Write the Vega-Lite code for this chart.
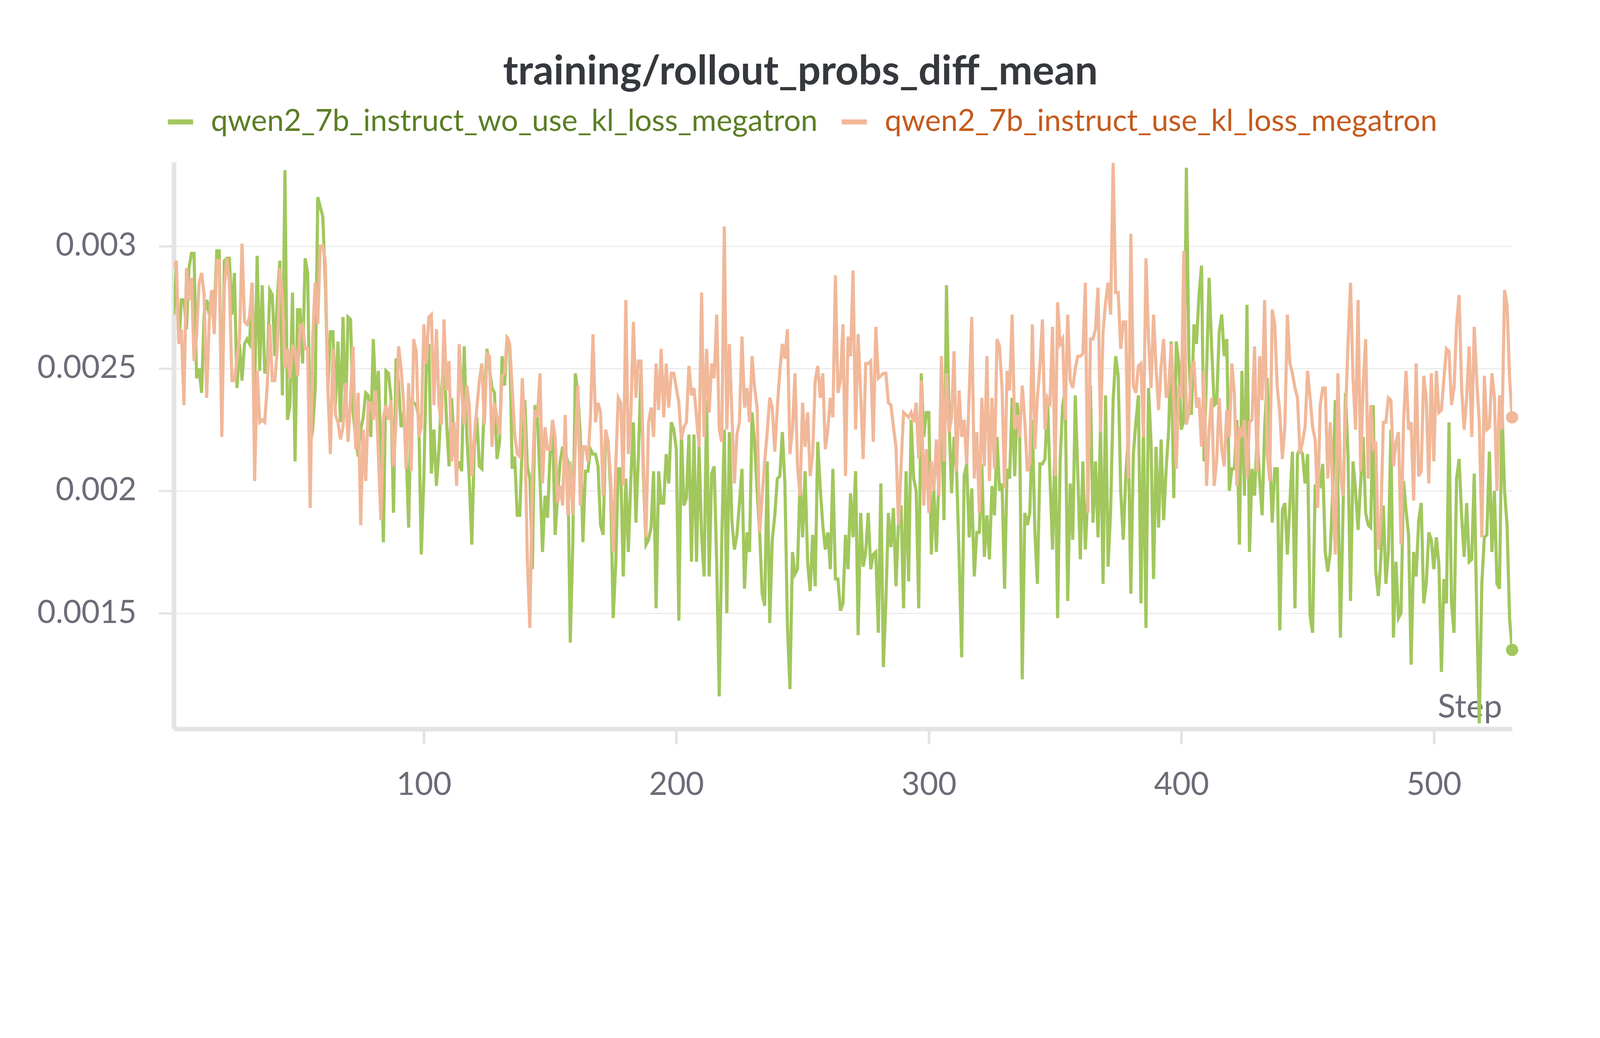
{
  "$schema": "https://vega.github.io/schema/vega-lite/v6.json",
  "width": 3426,
  "height": 1450,
  "autosize": {"type": "none"},
  "padding": {"left": 445, "top": 415, "right": 206, "bottom": 277},
  "background": "white",
  "config": {"font": "Lato", "view": {"stroke": null}},
  "title": {
    "text": "training/rollout_probs_diff_mean",
    "fontSize": 104,
    "fontWeight": "bold",
    "color": "#35383d",
    "anchor": "middle",
    "frame": "group",
    "dx": -109,
    "offset": 35
  },
  "data": {
    "values": [
      {"step":1,"wo":0.00272,"kl":0.00291},{"step":2,"wo":0.00291,"kl":0.00294},{"step":3,"wo":0.00260,"kl":0.00260},{"step":4,"wo":0.00278,"kl":0.00266},{"step":5,"wo":0.00278,"kl":0.00235},
      {"step":6,"wo":0.00266,"kl":0.00291},{"step":7,"wo":0.00291,"kl":0.00278},{"step":8,"wo":0.00297,"kl":0.00287},{"step":9,"wo":0.00297,"kl":0.00253},{"step":10,"wo":0.00246,"kl":0.00263},
      {"step":11,"wo":0.00250,"kl":0.00285},{"step":12,"wo":0.00240,"kl":0.00289},{"step":13,"wo":0.00272,"kl":0.00280},{"step":14,"wo":0.00278,"kl":0.00238},{"step":15,"wo":0.00272,"kl":0.00269},
      {"step":16,"wo":0.00282,"kl":0.00282},{"step":17,"wo":0.00272,"kl":0.00264},{"step":18,"wo":0.00298,"kl":0.00294},{"step":19,"wo":0.00298,"kl":0.00294},{"step":20,"wo":0.00224,"kl":0.00222},
      {"step":21,"wo":0.00294,"kl":0.00283},{"step":22,"wo":0.00295,"kl":0.00295},{"step":23,"wo":0.00295,"kl":0.00285},{"step":24,"wo":0.00272,"kl":0.00245},{"step":25,"wo":0.00289,"kl":0.00245},
      {"step":26,"wo":0.00242,"kl":0.00254},{"step":27,"wo":0.00260,"kl":0.00262},{"step":28,"wo":0.00245,"kl":0.00301},{"step":29,"wo":0.00260,"kl":0.00269},{"step":30,"wo":0.00262,"kl":0.00268},
      {"step":31,"wo":0.00260,"kl":0.00271},{"step":32,"wo":0.00285,"kl":0.00285},{"step":33,"wo":0.00240,"kl":0.00204},{"step":34,"wo":0.00296,"kl":0.00249},{"step":35,"wo":0.00249,"kl":0.00228},
      {"step":36,"wo":0.00284,"kl":0.00229},{"step":37,"wo":0.00248,"kl":0.00228},{"step":38,"wo":0.00250,"kl":0.00243},{"step":39,"wo":0.00282,"kl":0.00268},{"step":40,"wo":0.00280,"kl":0.00245},
      {"step":41,"wo":0.00255,"kl":0.00245},{"step":42,"wo":0.00279,"kl":0.00258},{"step":43,"wo":0.00294,"kl":0.00291},{"step":44,"wo":0.00239,"kl":0.00279},{"step":45,"wo":0.00331,"kl":0.00250},
      {"step":46,"wo":0.00229,"kl":0.00258},{"step":47,"wo":0.00235,"kl":0.00246},{"step":48,"wo":0.00281,"kl":0.00259},{"step":49,"wo":0.00212,"kl":0.00258},{"step":50,"wo":0.00274,"kl":0.00247},
      {"step":51,"wo":0.00274,"kl":0.00267},{"step":52,"wo":0.00252,"kl":0.00268},{"step":53,"wo":0.00295,"kl":0.00258},{"step":54,"wo":0.00289,"kl":0.00258},{"step":55,"wo":0.00219,"kl":0.00193},
      {"step":56,"wo":0.00225,"kl":0.00263},{"step":57,"wo":0.00242,"kl":0.00285},{"step":58,"wo":0.00320,"kl":0.00268},{"step":59,"wo":0.00316,"kl":0.00300},{"step":60,"wo":0.00312,"kl":0.00300},
      {"step":61,"wo":0.00285,"kl":0.00294},{"step":62,"wo":0.00242,"kl":0.00242},{"step":63,"wo":0.00265,"kl":0.00215},{"step":64,"wo":0.00265,"kl":0.00258},{"step":65,"wo":0.00235,"kl":0.00231},
      {"step":66,"wo":0.00261,"kl":0.00228},{"step":67,"wo":0.00228,"kl":0.00221},{"step":68,"wo":0.00271,"kl":0.00226},{"step":69,"wo":0.00230,"kl":0.00244},{"step":70,"wo":0.00271,"kl":0.00220},
      {"step":71,"wo":0.00270,"kl":0.00238},{"step":72,"wo":0.00232,"kl":0.00259},{"step":73,"wo":0.00222,"kl":0.00217},{"step":74,"wo":0.00214,"kl":0.00240},{"step":75,"wo":0.00225,"kl":0.00186},
      {"step":76,"wo":0.00230,"kl":0.00225},{"step":77,"wo":0.00240,"kl":0.00204},{"step":78,"wo":0.00239,"kl":0.00236},{"step":79,"wo":0.00222,"kl":0.00236},{"step":80,"wo":0.00262,"kl":0.00229},
      {"step":81,"wo":0.00236,"kl":0.00241},{"step":82,"wo":0.00249,"kl":0.00215},{"step":83,"wo":0.00215,"kl":0.00188},{"step":84,"wo":0.00179,"kl":0.00230},{"step":85,"wo":0.00249,"kl":0.00235},
      {"step":86,"wo":0.00248,"kl":0.00229},{"step":87,"wo":0.00238,"kl":0.00237},{"step":88,"wo":0.00191,"kl":0.00210},{"step":89,"wo":0.00254,"kl":0.00228},{"step":90,"wo":0.00244,"kl":0.00259},
      {"step":91,"wo":0.00226,"kl":0.00250},{"step":92,"wo":0.00232,"kl":0.00236},{"step":93,"wo":0.00217,"kl":0.00209},{"step":94,"wo":0.00185,"kl":0.00244},{"step":95,"wo":0.00237,"kl":0.00208},
      {"step":96,"wo":0.00236,"kl":0.00262},{"step":97,"wo":0.00235,"kl":0.00257},{"step":98,"wo":0.00230,"kl":0.00222},{"step":99,"wo":0.00174,"kl":0.00226},{"step":100,"wo":0.00205,"kl":0.00268},
      {"step":101,"wo":0.00252,"kl":0.00252},{"step":102,"wo":0.00260,"kl":0.00271},{"step":103,"wo":0.00207,"kl":0.00272},{"step":104,"wo":0.00225,"kl":0.00235},{"step":105,"wo":0.00202,"kl":0.00266},
      {"step":106,"wo":0.00217,"kl":0.00235},{"step":107,"wo":0.00240,"kl":0.00227},{"step":108,"wo":0.00257,"kl":0.00270},{"step":109,"wo":0.00228,"kl":0.00241},{"step":110,"wo":0.00210,"kl":0.00253},
      {"step":111,"wo":0.00238,"kl":0.00212},{"step":112,"wo":0.00220,"kl":0.00228},{"step":113,"wo":0.00208,"kl":0.00202},{"step":114,"wo":0.00212,"kl":0.00260},{"step":115,"wo":0.00208,"kl":0.00240},
      {"step":116,"wo":0.00259,"kl":0.00227},{"step":117,"wo":0.00223,"kl":0.00243},{"step":118,"wo":0.00205,"kl":0.00235},{"step":119,"wo":0.00178,"kl":0.00206},{"step":120,"wo":0.00218,"kl":0.00222},
      {"step":121,"wo":0.00230,"kl":0.00234},{"step":122,"wo":0.00210,"kl":0.00245},{"step":123,"wo":0.00209,"kl":0.00252},{"step":124,"wo":0.00238,"kl":0.00227},{"step":125,"wo":0.00258,"kl":0.00256},
      {"step":126,"wo":0.00250,"kl":0.00255},{"step":127,"wo":0.00242,"kl":0.00218},{"step":128,"wo":0.00240,"kl":0.00236},{"step":129,"wo":0.00213,"kl":0.00230},{"step":130,"wo":0.00220,"kl":0.00223},
      {"step":131,"wo":0.00255,"kl":0.00247},{"step":132,"wo":0.00243,"kl":0.00248},{"step":133,"wo":0.00262,"kl":0.00263},{"step":134,"wo":0.00260,"kl":0.00260},{"step":135,"wo":0.00209,"kl":0.00242},
      {"step":136,"wo":0.00214,"kl":0.00223},{"step":137,"wo":0.00190,"kl":0.00215},{"step":138,"wo":0.00190,"kl":0.00214},{"step":139,"wo":0.00220,"kl":0.00246},{"step":140,"wo":0.00237,"kl":0.00225},
      {"step":141,"wo":0.00210,"kl":0.00172},{"step":142,"wo":0.00205,"kl":0.00144},{"step":143,"wo":0.00168,"kl":0.00206},{"step":144,"wo":0.00235,"kl":0.00233},{"step":145,"wo":0.00230,"kl":0.00230},
      {"step":146,"wo":0.00205,"kl":0.00248},{"step":147,"wo":0.00175,"kl":0.00203},{"step":148,"wo":0.00198,"kl":0.00226},{"step":149,"wo":0.00189,"kl":0.00217},{"step":150,"wo":0.00215,"kl":0.00217},
      {"step":151,"wo":0.00228,"kl":0.00229},{"step":152,"wo":0.00182,"kl":0.00222},{"step":153,"wo":0.00198,"kl":0.00195},{"step":154,"wo":0.00212,"kl":0.00202},{"step":155,"wo":0.00218,"kl":0.00194},
      {"step":156,"wo":0.00215,"kl":0.00231},{"step":157,"wo":0.00212,"kl":0.00190},{"step":158,"wo":0.00138,"kl":0.00212},{"step":159,"wo":0.00178,"kl":0.00190},{"step":160,"wo":0.00248,"kl":0.00218},
      {"step":161,"wo":0.00240,"kl":0.00243},{"step":162,"wo":0.00222,"kl":0.00194},{"step":163,"wo":0.00179,"kl":0.00218},{"step":164,"wo":0.00208,"kl":0.00218},{"step":165,"wo":0.00208,"kl":0.00212},
      {"step":166,"wo":0.00217,"kl":0.00230},{"step":167,"wo":0.00215,"kl":0.00264},{"step":168,"wo":0.00215,"kl":0.00228},{"step":169,"wo":0.00210,"kl":0.00236},{"step":170,"wo":0.00186,"kl":0.00232},
      {"step":171,"wo":0.00182,"kl":0.00198},{"step":172,"wo":0.00222,"kl":0.00225},{"step":173,"wo":0.00220,"kl":0.00220},{"step":174,"wo":0.00200,"kl":0.00205},{"step":175,"wo":0.00148,"kl":0.00175},
      {"step":176,"wo":0.00170,"kl":0.00210},{"step":177,"wo":0.00209,"kl":0.00238},{"step":178,"wo":0.00209,"kl":0.00236},{"step":179,"wo":0.00165,"kl":0.00202},{"step":180,"wo":0.00205,"kl":0.00278},
      {"step":181,"wo":0.00175,"kl":0.00215},{"step":182,"wo":0.00205,"kl":0.00231},{"step":183,"wo":0.00228,"kl":0.00269},{"step":184,"wo":0.00187,"kl":0.00238},{"step":185,"wo":0.00215,"kl":0.00253},
      {"step":186,"wo":0.00248,"kl":0.00253},{"step":187,"wo":0.00205,"kl":0.00210},{"step":188,"wo":0.00178,"kl":0.00181},{"step":189,"wo":0.00180,"kl":0.00228},{"step":190,"wo":0.00185,"kl":0.00234},
      {"step":191,"wo":0.00208,"kl":0.00222},{"step":192,"wo":0.00152,"kl":0.00252},{"step":193,"wo":0.00208,"kl":0.00233},{"step":194,"wo":0.00195,"kl":0.00258},{"step":195,"wo":0.00195,"kl":0.00230},
      {"step":196,"wo":0.00215,"kl":0.00252},{"step":197,"wo":0.00203,"kl":0.00234},{"step":198,"wo":0.00228,"kl":0.00248},{"step":199,"wo":0.00225,"kl":0.00248},{"step":200,"wo":0.00217,"kl":0.00242},
      {"step":201,"wo":0.00147,"kl":0.00236},{"step":202,"wo":0.00225,"kl":0.00221},{"step":203,"wo":0.00194,"kl":0.00226},{"step":204,"wo":0.00197,"kl":0.00228},{"step":205,"wo":0.00223,"kl":0.00251},
      {"step":206,"wo":0.00171,"kl":0.00239},{"step":207,"wo":0.00223,"kl":0.00242},{"step":208,"wo":0.00171,"kl":0.00230},{"step":209,"wo":0.00218,"kl":0.00218},{"step":210,"wo":0.00182,"kl":0.00281},
      {"step":211,"wo":0.00165,"kl":0.00222},{"step":212,"wo":0.00237,"kl":0.00258},{"step":213,"wo":0.00165,"kl":0.00232},{"step":214,"wo":0.00207,"kl":0.00252},{"step":215,"wo":0.00210,"kl":0.00246},
      {"step":216,"wo":0.00170,"kl":0.00272},{"step":217,"wo":0.00116,"kl":0.00225},{"step":218,"wo":0.00180,"kl":0.00220},{"step":219,"wo":0.00225,"kl":0.00308},{"step":220,"wo":0.00150,"kl":0.00225},
      {"step":221,"wo":0.00224,"kl":0.00260},{"step":222,"wo":0.00188,"kl":0.00232},{"step":223,"wo":0.00176,"kl":0.00203},{"step":224,"wo":0.00182,"kl":0.00223},{"step":225,"wo":0.00195,"kl":0.00228},
      {"step":226,"wo":0.00209,"kl":0.00263},{"step":227,"wo":0.00160,"kl":0.00234},{"step":228,"wo":0.00183,"kl":0.00242},{"step":229,"wo":0.00175,"kl":0.00228},{"step":230,"wo":0.00232,"kl":0.00255},
      {"step":231,"wo":0.00220,"kl":0.00242},{"step":232,"wo":0.00200,"kl":0.00234},{"step":233,"wo":0.00183,"kl":0.00183},{"step":234,"wo":0.00158,"kl":0.00198},{"step":235,"wo":0.00153,"kl":0.00212},
      {"step":236,"wo":0.00212,"kl":0.00224},{"step":237,"wo":0.00146,"kl":0.00238},{"step":238,"wo":0.00180,"kl":0.00234},{"step":239,"wo":0.00190,"kl":0.00216},{"step":240,"wo":0.00205,"kl":0.00234},
      {"step":241,"wo":0.00206,"kl":0.00249},{"step":242,"wo":0.00224,"kl":0.00260},{"step":243,"wo":0.00203,"kl":0.00254},{"step":244,"wo":0.00145,"kl":0.00266},{"step":245,"wo":0.00119,"kl":0.00215},
      {"step":246,"wo":0.00175,"kl":0.00225},{"step":247,"wo":0.00166,"kl":0.00248},{"step":248,"wo":0.00168,"kl":0.00210},{"step":249,"wo":0.00205,"kl":0.00198},{"step":250,"wo":0.00181,"kl":0.00236},
      {"step":251,"wo":0.00208,"kl":0.00218},{"step":252,"wo":0.00171,"kl":0.00232},{"step":253,"wo":0.00159,"kl":0.00206},{"step":254,"wo":0.00182,"kl":0.00215},{"step":255,"wo":0.00161,"kl":0.00245},
      {"step":256,"wo":0.00220,"kl":0.00251},{"step":257,"wo":0.00201,"kl":0.00238},{"step":258,"wo":0.00186,"kl":0.00248},{"step":259,"wo":0.00176,"kl":0.00217},{"step":260,"wo":0.00183,"kl":0.00225},
      {"step":261,"wo":0.00168,"kl":0.00238},{"step":262,"wo":0.00209,"kl":0.00230},{"step":263,"wo":0.00164,"kl":0.00288},{"step":264,"wo":0.00164,"kl":0.00240},{"step":265,"wo":0.00151,"kl":0.00245},
      {"step":266,"wo":0.00154,"kl":0.00268},{"step":267,"wo":0.00182,"kl":0.00206},{"step":268,"wo":0.00168,"kl":0.00263},{"step":269,"wo":0.00199,"kl":0.00255},{"step":270,"wo":0.00181,"kl":0.00290},
      {"step":271,"wo":0.00208,"kl":0.00225},{"step":272,"wo":0.00141,"kl":0.00264},{"step":273,"wo":0.00191,"kl":0.00240},{"step":274,"wo":0.00169,"kl":0.00213},{"step":275,"wo":0.00175,"kl":0.00252},
      {"step":276,"wo":0.00191,"kl":0.00252},{"step":277,"wo":0.00168,"kl":0.00253},{"step":278,"wo":0.00174,"kl":0.00220},{"step":279,"wo":0.00175,"kl":0.00267},{"step":280,"wo":0.00142,"kl":0.00246},
      {"step":281,"wo":0.00203,"kl":0.00247},{"step":282,"wo":0.00128,"kl":0.00248},{"step":283,"wo":0.00155,"kl":0.00248},{"step":284,"wo":0.00191,"kl":0.00236},{"step":285,"wo":0.00177,"kl":0.00235},
      {"step":286,"wo":0.00193,"kl":0.00226},{"step":287,"wo":0.00161,"kl":0.00218},{"step":288,"wo":0.00188,"kl":0.00186},{"step":289,"wo":0.00194,"kl":0.00210},{"step":290,"wo":0.00152,"kl":0.00232},
      {"step":291,"wo":0.00208,"kl":0.00231},{"step":292,"wo":0.00163,"kl":0.00230},{"step":293,"wo":0.00229,"kl":0.00232},{"step":294,"wo":0.00205,"kl":0.00228},{"step":295,"wo":0.00200,"kl":0.00236},
      {"step":296,"wo":0.00152,"kl":0.00213},{"step":297,"wo":0.00248,"kl":0.00245},{"step":298,"wo":0.00222,"kl":0.00194},{"step":299,"wo":0.00232,"kl":0.00217},{"step":300,"wo":0.00232,"kl":0.00191},
      {"step":301,"wo":0.00174,"kl":0.00212},{"step":302,"wo":0.00200,"kl":0.00200},{"step":303,"wo":0.00175,"kl":0.00221},{"step":304,"wo":0.00206,"kl":0.00198},{"step":305,"wo":0.00232,"kl":0.00255},
      {"step":306,"wo":0.00188,"kl":0.00212},{"step":307,"wo":0.00284,"kl":0.00248},{"step":308,"wo":0.00229,"kl":0.00224},{"step":309,"wo":0.00199,"kl":0.00230},{"step":310,"wo":0.00222,"kl":0.00257},
      {"step":311,"wo":0.00208,"kl":0.00208},{"step":312,"wo":0.00173,"kl":0.00241},{"step":313,"wo":0.00132,"kl":0.00222},{"step":314,"wo":0.00206,"kl":0.00229},{"step":315,"wo":0.00211,"kl":0.00211},
      {"step":316,"wo":0.00181,"kl":0.00240},{"step":317,"wo":0.00201,"kl":0.00271},{"step":318,"wo":0.00165,"kl":0.00205},{"step":319,"wo":0.00183,"kl":0.00224},{"step":320,"wo":0.00183,"kl":0.00191},
      {"step":321,"wo":0.00211,"kl":0.00238},{"step":322,"wo":0.00173,"kl":0.00210},{"step":323,"wo":0.00190,"kl":0.00255},{"step":324,"wo":0.00172,"kl":0.00204},{"step":325,"wo":0.00202,"kl":0.00238},
      {"step":326,"wo":0.00190,"kl":0.00209},{"step":327,"wo":0.00222,"kl":0.00262},{"step":328,"wo":0.00200,"kl":0.00259},{"step":329,"wo":0.00203,"kl":0.00242},{"step":330,"wo":0.00160,"kl":0.00201},
      {"step":331,"wo":0.00209,"kl":0.00249},{"step":332,"wo":0.00205,"kl":0.00241},{"step":333,"wo":0.00238,"kl":0.00272},{"step":334,"wo":0.00206,"kl":0.00225},{"step":335,"wo":0.00236,"kl":0.00231},
      {"step":336,"wo":0.00222,"kl":0.00222},{"step":337,"wo":0.00123,"kl":0.00243},{"step":338,"wo":0.00191,"kl":0.00229},{"step":339,"wo":0.00186,"kl":0.00208},{"step":340,"wo":0.00191,"kl":0.00211},
      {"step":341,"wo":0.00229,"kl":0.00268},{"step":342,"wo":0.00183,"kl":0.00217},{"step":343,"wo":0.00162,"kl":0.00238},{"step":344,"wo":0.00211,"kl":0.00251},{"step":345,"wo":0.00211,"kl":0.00270},
      {"step":346,"wo":0.00213,"kl":0.00225},{"step":347,"wo":0.00238,"kl":0.00238},{"step":348,"wo":0.00205,"kl":0.00236},{"step":349,"wo":0.00176,"kl":0.00267},{"step":350,"wo":0.00222,"kl":0.00206},
      {"step":351,"wo":0.00148,"kl":0.00277},{"step":352,"wo":0.00212,"kl":0.00260},{"step":353,"wo":0.00235,"kl":0.00262},{"step":354,"wo":0.00241,"kl":0.00229},{"step":355,"wo":0.00155,"kl":0.00272},
      {"step":356,"wo":0.00203,"kl":0.00245},{"step":357,"wo":0.00180,"kl":0.00242},{"step":358,"wo":0.00239,"kl":0.00250},{"step":359,"wo":0.00207,"kl":0.00255},{"step":360,"wo":0.00172,"kl":0.00255},
      {"step":361,"wo":0.00212,"kl":0.00256},{"step":362,"wo":0.00176,"kl":0.00285},{"step":363,"wo":0.00200,"kl":0.00191},{"step":364,"wo":0.00243,"kl":0.00262},{"step":365,"wo":0.00187,"kl":0.00262},
      {"step":366,"wo":0.00212,"kl":0.00266},{"step":367,"wo":0.00181,"kl":0.00283},{"step":368,"wo":0.00227,"kl":0.00224},{"step":369,"wo":0.00162,"kl":0.00265},{"step":370,"wo":0.00239,"kl":0.00277},
      {"step":371,"wo":0.00169,"kl":0.00285},{"step":372,"wo":0.00192,"kl":0.00272},{"step":373,"wo":0.00237,"kl":0.00334},{"step":374,"wo":0.00255,"kl":0.00281},{"step":375,"wo":0.00247,"kl":0.00281},
      {"step":376,"wo":0.00200,"kl":0.00258},{"step":377,"wo":0.00180,"kl":0.00269},{"step":378,"wo":0.00206,"kl":0.00269},{"step":379,"wo":0.00222,"kl":0.00205},{"step":380,"wo":0.00158,"kl":0.00305},
      {"step":381,"wo":0.00215,"kl":0.00243},{"step":382,"wo":0.00228,"kl":0.00240},{"step":383,"wo":0.00239,"kl":0.00251},{"step":384,"wo":0.00154,"kl":0.00252},{"step":385,"wo":0.00226,"kl":0.00222},
      {"step":386,"wo":0.00144,"kl":0.00295},{"step":387,"wo":0.00242,"kl":0.00262},{"step":388,"wo":0.00220,"kl":0.00242},{"step":389,"wo":0.00164,"kl":0.00272},{"step":390,"wo":0.00218,"kl":0.00250},
      {"step":391,"wo":0.00185,"kl":0.00233},{"step":392,"wo":0.00221,"kl":0.00251},{"step":393,"wo":0.00188,"kl":0.00262},{"step":394,"wo":0.00209,"kl":0.00238},{"step":395,"wo":0.00225,"kl":0.00242},
      {"step":396,"wo":0.00261,"kl":0.00260},{"step":397,"wo":0.00197,"kl":0.00238},{"step":398,"wo":0.00261,"kl":0.00209},{"step":399,"wo":0.00252,"kl":0.00243},{"step":400,"wo":0.00225,"kl":0.00238},
      {"step":401,"wo":0.00229,"kl":0.00298},{"step":402,"wo":0.00332,"kl":0.00227},{"step":403,"wo":0.00255,"kl":0.00232},{"step":404,"wo":0.00231,"kl":0.00249},{"step":405,"wo":0.00268,"kl":0.00253},
      {"step":406,"wo":0.00260,"kl":0.00234},{"step":407,"wo":0.00280,"kl":0.00238},{"step":408,"wo":0.00292,"kl":0.00218},{"step":409,"wo":0.00212,"kl":0.00249},{"step":410,"wo":0.00249,"kl":0.00202},
      {"step":411,"wo":0.00287,"kl":0.00225},{"step":412,"wo":0.00259,"kl":0.00238},{"step":413,"wo":0.00235,"kl":0.00202},{"step":414,"wo":0.00236,"kl":0.00212},{"step":415,"wo":0.00265,"kl":0.00238},
      {"step":416,"wo":0.00272,"kl":0.00217},{"step":417,"wo":0.00255,"kl":0.00210},{"step":418,"wo":0.00262,"kl":0.00233},{"step":419,"wo":0.00200,"kl":0.00222},{"step":420,"wo":0.00209,"kl":0.00252},
      {"step":421,"wo":0.00209,"kl":0.00240},{"step":422,"wo":0.00229,"kl":0.00202},{"step":423,"wo":0.00178,"kl":0.00226},{"step":424,"wo":0.00249,"kl":0.00222},{"step":425,"wo":0.00198,"kl":0.00229},
      {"step":426,"wo":0.00276,"kl":0.00205},{"step":427,"wo":0.00175,"kl":0.00228},{"step":428,"wo":0.00209,"kl":0.00229},{"step":429,"wo":0.00198,"kl":0.00259},{"step":430,"wo":0.00222,"kl":0.00208},
      {"step":431,"wo":0.00205,"kl":0.00255},{"step":432,"wo":0.00190,"kl":0.00237},{"step":433,"wo":0.00226,"kl":0.00278},{"step":434,"wo":0.00246,"kl":0.00215},{"step":435,"wo":0.00215,"kl":0.00204},
      {"step":436,"wo":0.00187,"kl":0.00274},{"step":437,"wo":0.00209,"kl":0.00268},{"step":438,"wo":0.00209,"kl":0.00242},{"step":439,"wo":0.00143,"kl":0.00232},{"step":440,"wo":0.00192,"kl":0.00213},
      {"step":441,"wo":0.00195,"kl":0.00226},{"step":442,"wo":0.00174,"kl":0.00272},{"step":443,"wo":0.00195,"kl":0.00252},{"step":444,"wo":0.00216,"kl":0.00248},{"step":445,"wo":0.00152,"kl":0.00242},
      {"step":446,"wo":0.00215,"kl":0.00238},{"step":447,"wo":0.00217,"kl":0.00215},{"step":448,"wo":0.00215,"kl":0.00220},{"step":449,"wo":0.00203,"kl":0.00226},{"step":450,"wo":0.00215,"kl":0.00249},
      {"step":451,"wo":0.00149,"kl":0.00238},{"step":452,"wo":0.00142,"kl":0.00226},{"step":453,"wo":0.00202,"kl":0.00221},{"step":454,"wo":0.00203,"kl":0.00193},{"step":455,"wo":0.00202,"kl":0.00235},
      {"step":456,"wo":0.00211,"kl":0.00242},{"step":457,"wo":0.00175,"kl":0.00242},{"step":458,"wo":0.00167,"kl":0.00205},{"step":459,"wo":0.00175,"kl":0.00228},{"step":460,"wo":0.00202,"kl":0.00198},
      {"step":461,"wo":0.00237,"kl":0.00174},{"step":462,"wo":0.00203,"kl":0.00248},{"step":463,"wo":0.00140,"kl":0.00208},{"step":464,"wo":0.00190,"kl":0.00198},{"step":465,"wo":0.00240,"kl":0.00230},
      {"step":466,"wo":0.00215,"kl":0.00260},{"step":467,"wo":0.00155,"kl":0.00285},{"step":468,"wo":0.00212,"kl":0.00246},{"step":469,"wo":0.00200,"kl":0.00225},{"step":470,"wo":0.00184,"kl":0.00278},
      {"step":471,"wo":0.00203,"kl":0.00208},{"step":472,"wo":0.00222,"kl":0.00243},{"step":473,"wo":0.00191,"kl":0.00262},{"step":474,"wo":0.00186,"kl":0.00205},{"step":475,"wo":0.00185,"kl":0.00235},
      {"step":476,"wo":0.00235,"kl":0.00218},{"step":477,"wo":0.00167,"kl":0.00220},{"step":478,"wo":0.00157,"kl":0.00176},{"step":479,"wo":0.00172,"kl":0.00188},{"step":480,"wo":0.00194,"kl":0.00228},
      {"step":481,"wo":0.00162,"kl":0.00228},{"step":482,"wo":0.00175,"kl":0.00238},{"step":483,"wo":0.00225,"kl":0.00237},{"step":484,"wo":0.00140,"kl":0.00210},{"step":485,"wo":0.00171,"kl":0.00220},
      {"step":486,"wo":0.00148,"kl":0.00224},{"step":487,"wo":0.00150,"kl":0.00178},{"step":488,"wo":0.00204,"kl":0.00228},{"step":489,"wo":0.00192,"kl":0.00249},{"step":490,"wo":0.00182,"kl":0.00225},
      {"step":491,"wo":0.00129,"kl":0.00228},{"step":492,"wo":0.00175,"kl":0.00196},{"step":493,"wo":0.00165,"kl":0.00252},{"step":494,"wo":0.00188,"kl":0.00206},{"step":495,"wo":0.00195,"kl":0.00208},
      {"step":496,"wo":0.00154,"kl":0.00247},{"step":497,"wo":0.00162,"kl":0.00238},{"step":498,"wo":0.00183,"kl":0.00203},{"step":499,"wo":0.00180,"kl":0.00248},{"step":500,"wo":0.00168,"kl":0.00212},
      {"step":501,"wo":0.00181,"kl":0.00249},{"step":502,"wo":0.00170,"kl":0.00232},{"step":503,"wo":0.00126,"kl":0.00233},{"step":504,"wo":0.00164,"kl":0.00246},{"step":505,"wo":0.00154,"kl":0.00258},
      {"step":506,"wo":0.00228,"kl":0.00257},{"step":507,"wo":0.00154,"kl":0.00235},{"step":508,"wo":0.00142,"kl":0.00242},{"step":509,"wo":0.00205,"kl":0.00268},{"step":510,"wo":0.00213,"kl":0.00280},
      {"step":511,"wo":0.00190,"kl":0.00242},{"step":512,"wo":0.00173,"kl":0.00225},{"step":513,"wo":0.00195,"kl":0.00238},{"step":514,"wo":0.00171,"kl":0.00259},{"step":515,"wo":0.00172,"kl":0.00222},
      {"step":516,"wo":0.00207,"kl":0.00267},{"step":517,"wo":0.00150,"kl":0.00245},{"step":518,"wo":0.00105,"kl":0.00228},{"step":519,"wo":0.00162,"kl":0.00181},{"step":520,"wo":0.00181,"kl":0.00247},
      {"step":521,"wo":0.00182,"kl":0.00225},{"step":522,"wo":0.00216,"kl":0.00226},{"step":523,"wo":0.00175,"kl":0.00248},{"step":524,"wo":0.00200,"kl":0.00238},{"step":525,"wo":0.00162,"kl":0.00200},
      {"step":526,"wo":0.00160,"kl":0.00239},{"step":527,"wo":0.00234,"kl":0.00225},{"step":528,"wo":0.00200,"kl":0.00282},{"step":529,"wo":0.00186,"kl":0.00276},{"step":530,"wo":0.00148,"kl":0.00246},
      {"step":531,"wo":0.00135,"kl":0.00230}
    ]
  },
  "transform": [{"fold": ["wo", "kl"], "as": ["run", "value"]}],
  "encoding": {
    "x": {
      "field": "step",
      "type": "quantitative",
      "scale": {"domain": [1, 531], "nice": false, "zero": false},
      "axis": {
        "values": [100, 200, 300, 400, 500],
        "format": "d",
        "title": "Step",
        "titleAlign": "right",
        "titleBaseline": "alphabetic",
        "titleX": 3400,
        "titleY": -30,
        "titleFontSize": 84,
        "titleFontWeight": "normal",
        "titleColor": "#6b6c78",
        "labelFontSize": 81,
        "labelColor": "#6b6c78",
        "labelPadding": 65,
        "tickSize": 39,
        "tickWidth": 7,
        "tickColor": "#e4e4e7",
        "domainColor": "#e4e4e7",
        "domainWidth": 12,
        "grid": false
      }
    },
    "y": {
      "field": "value",
      "type": "quantitative",
      "scale": {"domain": [0.0010275, 0.0033425], "nice": false, "zero": false},
      "axis": {
        "values": [0.0015, 0.002, 0.0025, 0.003],
        "format": "~g",
        "title": null,
        "labelFontSize": 81,
        "labelLimit": 1000,
        "labelColor": "#6b6c78",
        "labelPadding": 57,
        "tickSize": 39,
        "tickWidth": 5.5,
        "tickColor": "#e4e4e7",
        "domainColor": "#e4e4e7",
        "domainWidth": 12,
        "grid": true,
        "gridColor": "#ebebeb",
        "gridWidth": 3.2
      }
    },
    "color": {
      "field": "run",
      "type": "nominal",
      "scale": {"domain": ["wo", "kl"], "range": ["#a1c75d", "#f1b899"]},
      "legend": {
        "orient": "none",
        "legendX": -22,
        "legendY": -142,
        "direction": "horizontal",
        "title": null,
        "labelFontSize": 77,
        "labelLimit": 4000,
        "labelExpr": "datum.value === 'wo' ? 'qwen2_7b_instruct_wo_use_kl_loss_megatron' : 'qwen2_7b_instruct_use_kl_loss_megatron'",
        "symbolType": "stroke",
        "symbolStrokeWidth": 13,
        "symbolSize": 4160,
        "labelOffset": 39,
        "columnPadding": 34,
        "padding": 0,
        "encode": {
          "labels": {"update": {"fill": {"signal": "datum.value === 'wo' ? '#5b7e26' : '#c55a1c'"}}}
        }
      }
    }
  },
  "layer": [
    {
      "transform": [{"filter": "datum.run === 'wo'"}],
      "mark": {"type": "line", "strokeWidth": 8, "clip": true}
    },
    {
      "transform": [{"filter": "datum.run === 'kl'"}],
      "mark": {"type": "line", "strokeWidth": 8, "clip": true}
    },
    {
      "transform": [{"filter": "datum.step === 531"}],
      "mark": {"type": "point", "filled": true, "size": 990, "opacity": 1}
    }
  ]
}
